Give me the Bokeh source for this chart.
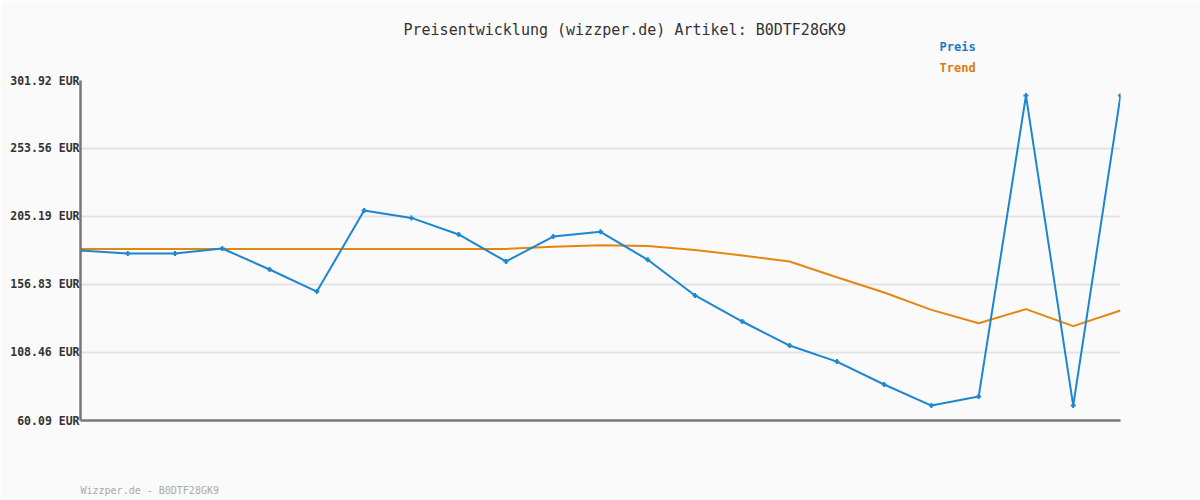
from bokeh.plotting import figure
from bokeh.models import Range1d, FixedTicker, CustomJSTickFormatter, Title, ColumnDataSource
from bokeh.embed import file_html
from bokeh.resources import INLINE

# ---- data ----
idx = list(range(23))
preis = [181.0, 178.9, 178.9, 182.4, 167.5, 151.8, 209.4, 204.2, 192.4, 173.2,
         190.9, 194.3, 174.4, 149.0, 130.5, 113.4, 102.0, 85.7, 70.7, 77.1,
         291.2, 70.7, 291.2]
trend = [182.1, 182.1, 182.1, 182.1, 182.1, 182.1, 182.1, 182.1, 182.1, 182.1,
         183.6, 184.8, 184.2, 181.4, 177.5, 173.2, 162.0, 151.1, 138.8, 129.3,
         139.3, 127.2, 138.3]
y_ticks = [60.09, 108.46, 156.83, 205.19, 253.56, 301.92]
series_names = ["Preis", "Trend"]
title_text = "Preisentwicklung (wizzper.de) Artikel: B0DTF28GK9"
footer_text = "Wizzper.de - B0DTF28GK9"

BLUE = "#1c86d1"
ORANGE = "#e5870f"
MONO = "DejaVu Sans Mono"

src = ColumnDataSource(dict(x=idx, preis=preis, trend=trend))

p = figure(width=1200, height=500, output_backend="svg", toolbar_location=None,
           x_range=Range1d(0, 22), y_range=Range1d(y_ticks[0], y_ticks[-1]),
           min_border_left=80, min_border_right=80, min_border_top=80, min_border_bottom=80)
p.background_fill_color = "#fafafa"
p.border_fill_color = "#fafafa"
p.outline_line_color = None

# axes (x axis has no visible ticks or labels; its label standoff only reserves space)
p.xaxis.ticker = FixedTicker(ticks=[0])
p.xaxis.formatter = CustomJSTickFormatter(code='return " ";')
p.xaxis.major_tick_line_color = None
p.xaxis.minor_tick_line_color = None
p.xaxis.major_label_text_font_size = "1px"
p.xaxis.major_label_text_color = "#fafafa"
p.xaxis.major_label_standoff = 52
p.xaxis.axis_line_color = "#777777"
p.xaxis.axis_line_width = 2.5

p.yaxis.ticker = FixedTicker(ticks=y_ticks)
p.yaxis.formatter = CustomJSTickFormatter(code='return tick.toFixed(2) + " EUR";')
p.yaxis.major_tick_line_color = None
p.yaxis.minor_tick_line_color = None
p.yaxis.major_label_standoff = -5
p.yaxis.major_label_text_font = MONO
p.yaxis.major_label_text_font_style = "bold"
p.yaxis.major_label_text_font_size = "11.5px"
p.yaxis.major_label_text_color = "#333333"
p.yaxis.axis_line_color = "#777777"
p.yaxis.axis_line_width = 2.5

p.xgrid.grid_line_color = None
p.ygrid.grid_line_color = "#e3e3e3"
p.ygrid.grid_line_width = 2

# series
p.line("x", "trend", source=src, line_color=ORANGE, line_width=2)
p.line("x", "preis", source=src, line_color=BLUE, line_width=2)
p.scatter("x", "preis", source=src, marker="cross", size=5, line_color=BLUE, line_width=2)

# legend texts and title (stacked above the frame, nearest first)
p.add_layout(Title(text=series_names[1], align="left", offset=859, standoff=11,
                   text_font=MONO, text_font_style="bold", text_font_size="12px",
                   text_color="#db7b0c"), "above")
p.add_layout(Title(text=series_names[0], align="left", offset=859, standoff=0,
                   text_font=MONO, text_font_style="bold", text_font_size="12px",
                   text_color="#1a7ac6"), "above")
p.add_layout(Title(text=title_text, align="left", offset=323, standoff=-2,
                   text_font=MONO, text_font_style="normal", text_font_size="15px",
                   text_color="#333333"), "above")
# footer
p.add_layout(Title(text=footer_text, align="left", offset=0, standoff=0,
                   text_font=MONO, text_font_style="normal", text_font_size="10px",
                   text_color="#aaaaaa"), "below")

open("out.html", "w").write(file_html(p, INLINE))
